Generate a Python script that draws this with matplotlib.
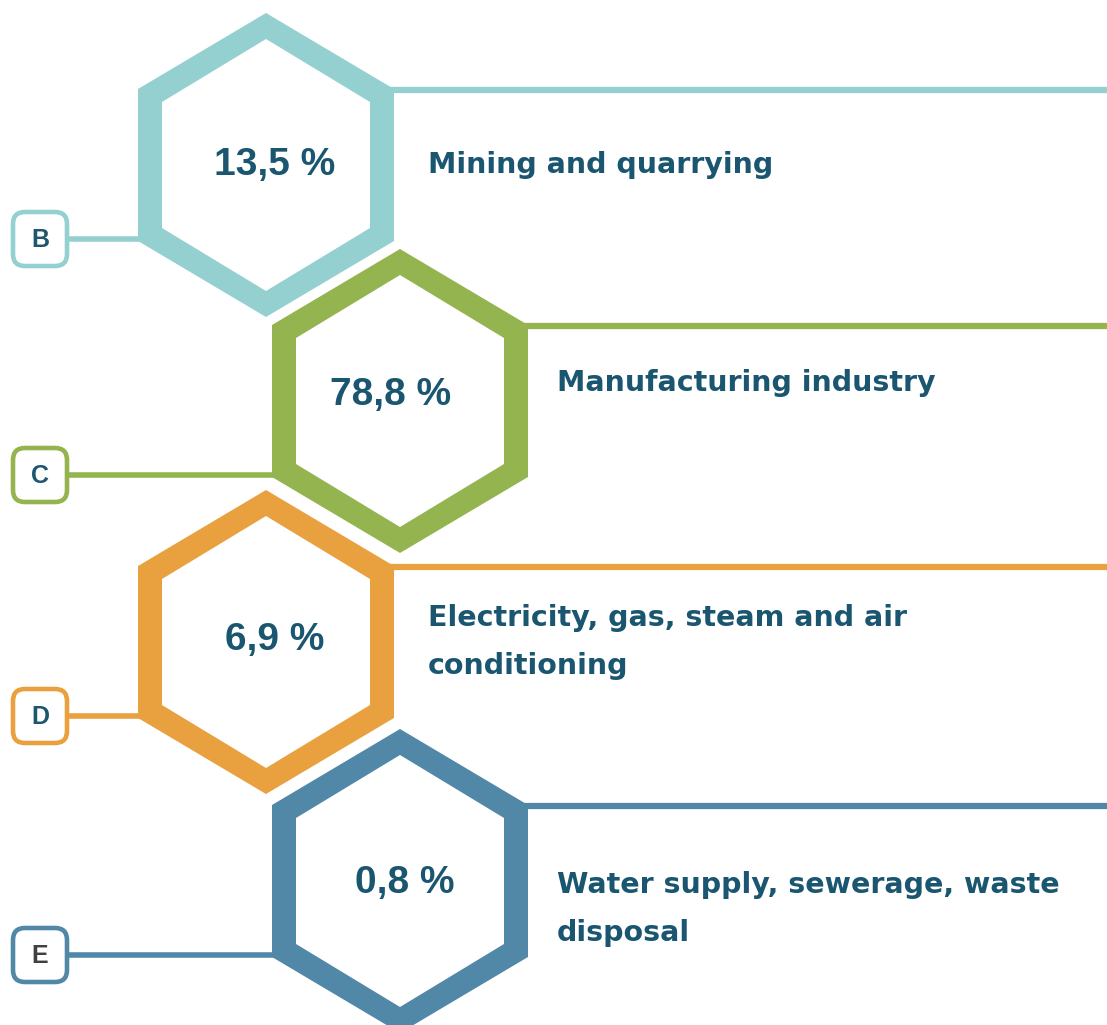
import matplotlib
matplotlib.use("Agg")
import matplotlib.pyplot as plt
from matplotlib import font_manager as fm
from matplotlib.path import Path
from matplotlib.patches import PathPatch, FancyBboxPatch

codes = ["B", "C", "D", "E"]
shares = [13.5, 78.8, 6.9, 0.8]
labels = [
    "Mining and quarrying",
    "Manufacturing industry",
    "Electricity, gas, steam and air\nconditioning",
    "Water supply, sewerage, waste\ndisposal",
]
colors = ["#95d0d0", "#94b450", "#e9a140", "#5188a8"]
code_colors = ["#1e5670", "#1e5670", "#1e5670", "#404040"]

W, H = 1107, 1025
text_color = "#1b5670"


def bold_font(name):
    # pick the plain bold face, not a narrow/condensed one
    for f in fm.fontManager.ttflist:
        fn = f.fname.lower()
        if (f.name == name and f.weight in (700, "bold") and f.style == "normal"
                and "narrow" not in fn and "condensed" not in fn):
            return fm.FontProperties(fname=f.fname)
    return fm.FontProperties(family=name, weight="bold")


sans_bold = bold_font("Liberation Sans")
label_bold = bold_font("DejaVu Sans")


def hex_pts(cx, cy, hw, r, side):
    return [(cx, cy - r), (cx + hw, cy - side), (cx + hw, cy + side),
            (cx, cy + r), (cx - hw, cy + side), (cx - hw, cy - side), (cx, cy - r)]


def hex_ring(cx, cy):
    outer = hex_pts(cx, cy, 128, 152, 76)
    inner = hex_pts(cx, cy, 104, 126, 63)[::-1]
    verts = outer + inner
    cmds = ([Path.MOVETO] + [Path.LINETO] * 5 + [Path.CLOSEPOLY]) * 2
    return Path(verts, cmds)


fig = plt.figure(figsize=(W / 100, H / 100), dpi=100)
ax = fig.add_axes([0, 0, 1, 1])
ax.set_xlim(0, W)
ax.set_ylim(H, 0)
ax.axis("off")

centers_x = [266, 400, 266, 400]
centers_y = [165, 401, 642, 881]
pct_offsets = [(9, 0), (-9, -6), (9, -2), (5, 2)]
label_x = [428, 557, 428, 557]
label_y = [165, 383, 642, 909]

for i, code in enumerate(codes):
    cx, cy = centers_x[i], centers_y[i]
    col = colors[i]

    # right connector line to the edge
    ax.plot([cx + 120, W + 5], [cy - 75.5, cy - 75.5], color=col, lw=4.5,
            solid_capstyle="butt", zorder=1)
    # left connector line to the code box
    ax.plot([66, cx - 120], [cy + 74, cy + 74], color=col, lw=4.0,
            solid_capstyle="butt", zorder=1)

    ax.add_patch(PathPatch(hex_ring(cx, cy), facecolor=col, edgecolor="none", zorder=2))

    box = FancyBboxPatch((13, cy + 74 - 27), 54, 54,
                         boxstyle="round,pad=0,rounding_size=12",
                         facecolor="white", edgecolor=col, lw=3.3, zorder=3)
    ax.add_patch(box)
    ax.text(40, cy + 75, code, ha="center", va="center", fontproperties=sans_bold,
            fontsize=18, color=code_colors[i], zorder=4)

    pct = f"{shares[i]:.1f}".replace(".", ",") + " %"
    dx, dy = pct_offsets[i]
    ax.text(cx + dx, cy + dy, pct, ha="center", va="center", fontproperties=sans_bold,
            fontsize=28, color=text_color, zorder=4)

    ax.text(label_x[i], label_y[i], labels[i], ha="left", va="center",
            fontproperties=label_bold, fontsize=20.5, color=text_color,
            linespacing=1.9, zorder=4)

fig.savefig("out.png", dpi=100, facecolor="white")
